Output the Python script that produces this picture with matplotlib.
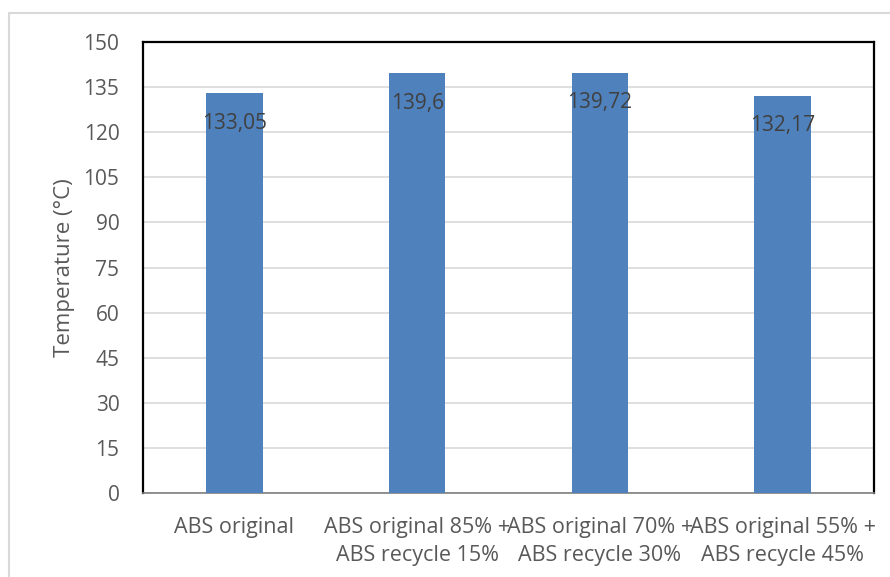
import matplotlib
matplotlib.use("Agg")
import matplotlib.pyplot as plt
from matplotlib.patches import Rectangle

categories = ["ABS original",
              "ABS original 85% +\nABS recycle 15%",
              "ABS original 70% +\nABS recycle 30%",
              "ABS original 55% +\nABS recycle 45%"]
values = [133.05, 139.6, 139.72, 132.17]
value_labels = ["133,05", "139,6", "139,72", "132,17"]
yticks = [0, 15, 30, 45, 60, 75, 90, 105, 120, 135, 150]

plt.rcParams['font.family'] = ['Open Sans', 'DejaVu Sans']

fig = plt.figure(figsize=(8.9, 5.77), dpi=100)
fig.patches.append(Rectangle((9 / 890, -0.1), 1.2, (577 - 13) / 577 + 0.1,
                             transform=fig.transFigure, fill=False,
                             edgecolor="#d9d9d9", linewidth=1.5))
ax = fig.add_axes([143 / 890, 1 - 493 / 577, (874 - 143) / 890, (493 - 42) / 577])

x = range(len(categories))
ax.bar(x, values, width=0.31, color="#4f81bd", zorder=3)
for i, (v, lab) in enumerate(zip(values, value_labels)):
    ax.text(i, v - 10, lab, ha="center", va="center", fontsize=15,
            color="#404040", zorder=4)

ax.set_xlim(-0.5, len(categories) - 0.5)
ax.set_ylim(0, 150)
ax.set_yticks(yticks)
ax.set_xticks(list(x))
ax.set_xticklabels(categories, fontsize=15.5, color="#595959", linespacing=1.45)
ax.tick_params(axis="y", labelsize=15, labelcolor="#595959", length=0, pad=17)
ax.tick_params(axis="x", length=0, pad=17)
ax.yaxis.grid(True, color="#d9d9d9", linewidth=1.2, zorder=0)
ax.set_axisbelow(True)

for side in ("left", "top", "right"):
    ax.spines[side].set_color("black")
    ax.spines[side].set_linewidth(1.6)
ax.spines["bottom"].set_color("#7f7f7f")
ax.spines["bottom"].set_linewidth(1.2)

ax.set_ylabel("Temperature (°C)", fontsize=16, color="#595959", labelpad=6)

fig.savefig("out.png", dpi=100)
